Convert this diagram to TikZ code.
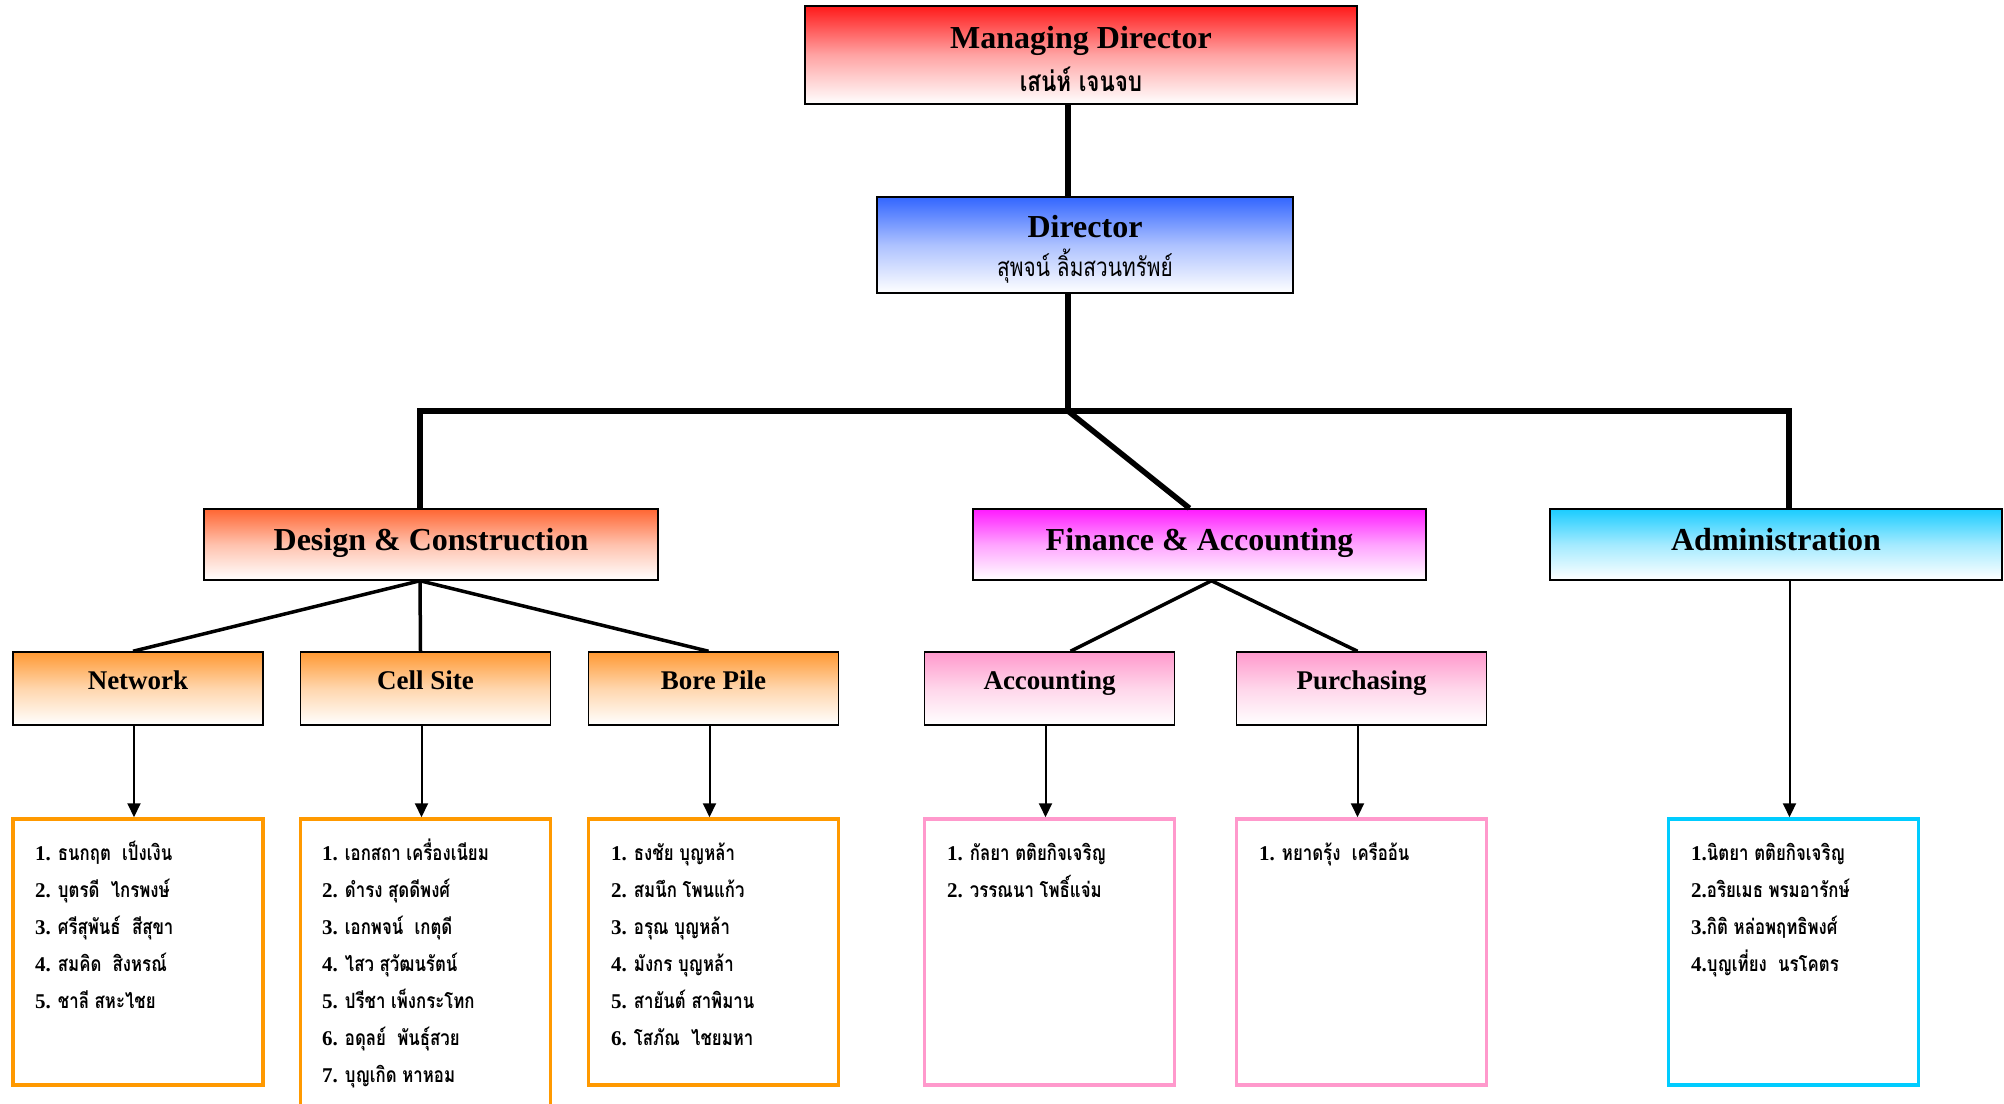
\documentclass[tikz,border=0pt]{standalone}
\usepackage{fontspec}
\setmainfont{Liberation Serif}
\newfontfamily\thaifont[Script=Thai,FakeStretch=0.8]{Loma}
\usetikzlibrary{arrows.meta,calc}
\definecolor{mdred}{RGB}{255,26,26}
\definecolor{dirblue}{RGB}{51,102,255}
\definecolor{dcorange}{RGB}{255,102,51}
\definecolor{famag}{RGB}{255,26,255}
\definecolor{admcyan}{RGB}{26,204,255}
\definecolor{suborange}{RGB}{255,153,51}
\definecolor{subpink}{RGB}{255,153,204}
\definecolor{lorange}{RGB}{255,153,0}
\definecolor{lpink}{RGB}{255,153,204}
\definecolor{lcyan}{RGB}{0,204,255}
\begin{document}
\begin{tikzpicture}[x=1pt, y=-1pt, font=\bfseries,
	box/.style={draw=black, line width=1.5pt, inner sep=0pt, top color=#1, bottom color=white, middle color=#1!40!white},
	head/.style={box=#1, minimum height=71, font=\fontsize{32}{40}\selectfont\bfseries, text height=22pt, text depth=10pt},
	sub/.style={box=#1, minimum width=250, minimum height=73, font=\fontsize{27}{32}\selectfont\bfseries, text height=18pt, text depth=16pt},
	title/.style={anchor=base, inner sep=0pt, font=\fontsize{32}{40}\selectfont\bfseries},
	list/.style={draw=#1, line width=3.5pt, minimum width=250, inner sep=0pt},
	item/.style={anchor=base west, inner sep=0pt, font=\fontsize{21}{25}\selectfont\bfseries},
	trunk/.style={line width=5.5pt},
	fork/.style={line width=3.5pt},
	arr/.style={line width=2pt, -{Triangle[length=14pt,width=13pt]}}]
	\useasboundingbox (0,0) rectangle (2004,1103);
	%boxes
	\node[box=mdred, minimum width=552, minimum height=98] (md) at (1081,55) {};
	\node[title] (md-t) at (1081,48) {Managing Director};
	\node[title] (md-n) at (1081,91) {\thaifont\fontsize{28}{30}\selectfont เสน่ห์ เจนจบ};
	\node[box=dirblue, minimum width=416, minimum height=96] (dir) at (1085,245) {};
	\node[title] (dir-t) at (1085,237) {Director};
	\node[title] (dir-n) at (1085,276) {\thaifont\mdseries\fontsize{26}{30}\selectfont สุพจน์ ลิ้มสวนทรัพย์};
	\node[head=dcorange, minimum width=454] (dc) at (431,544.5) {Design \& Construction};
	\node[head=famag, minimum width=453] (fa) at (1199.5,544.5) {Finance \& Accounting};
	\node[head=admcyan, minimum width=452] (adm) at (1776,544.5) {Administration};
	\node[sub=suborange] (net) at (138,688.5) {Network};
	\node[sub=suborange] (cell) at (425.5,688.5) {Cell Site};
	\node[sub=suborange] (bore) at (713.5,688.5) {Bore Pile};
	\node[sub=subpink] (acc) at (1049.5,688.5) {Accounting};
	\node[sub=subpink] (pur) at (1361.5,688.5) {Purchasing};
	%lists
	\node[list=lorange, minimum height=266] (net-list) at (138,952) {};
	\node[list=lorange, minimum height=320] (cell-list) at (425.5,979) {};
	\node[list=lorange, minimum height=266] (bore-list) at (713.5,952) {};
	\node[list=lpink, minimum height=266] (acc-list) at (1049.5,952) {};
	\node[list=lpink, minimum height=266] (pur-list) at (1361.5,952) {};
	\node[list=lcyan, minimum height=266] (adm-list) at (1793.5,952) {};
	%trunk
	\coordinate (hub) at (1068,411);
	\coordinate (lft) at (420,411);
	\coordinate (rgt) at (1789,411);
	\draw[trunk] (hub |- md.south) -- (hub |- dir.north);
	\draw[trunk] (hub |- dir.south) -- (hub);
	\draw[trunk] (lft |- dc.north) -- (lft) -- (rgt) -- (rgt |- adm.north);
	\draw[trunk] (hub) -- ($(fa.north)+(-10,0)$);
	%forks
	\foreach \b in {net,cell,bore}
	\draw[fork] (lft |- dc.south) -- ($(\b.north)+(-5,0)$);
	\draw[fork] ($(fa.south)+(12,0)$) -- ($(acc.north)+(21,0)$);
	\draw[fork] ($(fa.south)+(12,0)$) -- ($(pur.north)+(-4,0)$);
	%arrows
	\foreach \b in {net,cell,bore,acc,pur}
	\draw[arr] ($(\b.south)+(-4,0)$) -- ($(\b-list.north)+(-4,0)$);
	\draw[arr] ($(adm-list.north |- adm.south)+(-4,0)$) -- ($(adm-list.north)+(-4,0)$);
	%names
	\foreach \t [count=\i] in {ธนกฤต~~เป็งเงิน, บุตรดี~~ไกรพงษ์, ศรีสุพันธ์~~สีสุขา, สมคิด~~สิงหรณ์, ชาลี สหะไชย}
	\node[item] (net-\i) at (35,823+37*\i) {\i. {\thaifont\t}};
	\foreach \t [count=\i] in {เอกสถา เครื่องเนียม, ดำรง สุดดีพงศ์, เอกพจน์~~เกตุดี, ไสว สุวัฒนรัตน์, ปรีชา เพ็งกระโทก, อดุลย์~~พันธุ์สวย, บุญเกิด หาหอม}
	\node[item] (cell-\i) at (322,823+37*\i) {\i. {\thaifont\t}};
	\foreach \t [count=\i] in {ธงชัย บุญหล้า, สมนึก โพนแก้ว, อรุณ บุญหล้า, มังกร บุญหล้า, สายันต์ สาพิมาน, โสภัณ~~ไชยมหา}
	\node[item] (bore-\i) at (611,823+37*\i) {\i. {\thaifont\t}};
	\foreach \t [count=\i] in {กัลยา ตติยกิจเจริญ, วรรณนา โพธิ์แจ่ม}
	\node[item] (acc-\i) at (947,823+37*\i) {\i. {\thaifont\t}};
	\node[item] (pur-1) at (1259,860) {1. {\thaifont หยาดรุ้ง~~เครืออ้น}};
	\foreach \t [count=\i] in {นิตยา ตติยกิจเจริญ, อริยเมธ พรมอารักษ์, กิติ หล่อพฤทธิพงศ์, บุญเที่ยง~~นรโคตร}
	\node[item] (adm-\i) at (1691,823+37*\i) {\i.{\thaifont\t}};
\end{tikzpicture}
\end{document}
